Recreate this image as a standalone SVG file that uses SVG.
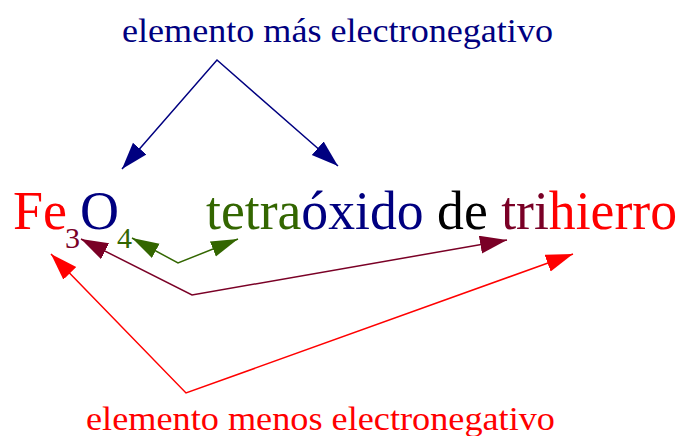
<svg xmlns="http://www.w3.org/2000/svg" width="683" height="436" viewBox="0 0 683 436">
  <style>
    text { font-family: "Liberation Serif", "Times New Roman", "DejaVu Serif", serif; }
    .lbl { font-size: 34px; }
    .big { font-size: 54px; }
    .sub { font-size: 30px; }
    .conn { fill: none; stroke-width: 1.5; }
    .red { fill: #ff0000; }
    .navy { fill: #000080; }
    .green { fill: #336600; }
    .maroon { fill: #7a0026; }
    .black { fill: #000000; }
  </style>
  <defs>
    <marker id="ah-navy" markerUnits="userSpaceOnUse" markerWidth="28" markerHeight="20" refX="27" refY="9" orient="auto-start-reverse" viewBox="0 0 28 20">
      <path d="M0,0 L27,9 L0,18 z" fill="#000080"/>
    </marker>
    <marker id="ah-green" markerUnits="userSpaceOnUse" markerWidth="28" markerHeight="20" refX="27" refY="8" orient="auto-start-reverse" viewBox="0 0 28 20">
      <path d="M0,0 L27,8 L0,16 z" fill="#336600"/>
    </marker>
    <marker id="ah-maroon" markerUnits="userSpaceOnUse" markerWidth="28" markerHeight="20" refX="27" refY="9" orient="auto-start-reverse" viewBox="0 0 28 20">
      <path d="M0,0 L27,9 L0,18 z" fill="#7a0026"/>
    </marker>
    <marker id="ah-red" markerUnits="userSpaceOnUse" markerWidth="28" markerHeight="20" refX="27" refY="9" orient="auto-start-reverse" viewBox="0 0 28 20">
      <path d="M0,0 L27,9 L0,18 z" fill="#ff0000"/>
    </marker>
  </defs>
  <rect width="683" height="436" fill="#ffffff"/>

  <g id="connectors">
    <polyline class="conn" stroke="#000080" points="122,169 217,60 338,166" marker-start="url(#ah-navy)" marker-end="url(#ah-navy)"/>
    <polyline class="conn" stroke="#336600" points="132,238 178,263 238,239" marker-start="url(#ah-green)" marker-end="url(#ah-green)"/>
    <polyline class="conn" stroke="#7a0026" points="81,239 192,295 507,240" marker-start="url(#ah-maroon)" marker-end="url(#ah-maroon)"/>
    <polyline class="conn" stroke="#ff0000" points="51,254 186,393 573,254" marker-start="url(#ah-red)" marker-end="url(#ah-red)"/>
  </g>

  <g id="label-mas">
    <text class="lbl navy" x="122" y="42" textLength="431" lengthAdjust="spacingAndGlyphs">elemento más electronegativo</text>
  </g>

  <g id="formula">
    <text class="big red" x="13" y="229">Fe</text>
    <text class="sub maroon" x="65" y="248">3</text>
    <text class="big navy" x="80" y="229">O</text>
    <text class="sub green" x="117" y="248">4</text>
  </g>

  <g id="name">
    <text class="big" x="206" y="229" textLength="471" lengthAdjust="spacingAndGlyphs"><tspan class="green">tetra</tspan><tspan class="navy">óxido</tspan><tspan class="black"> de </tspan><tspan class="maroon">tri</tspan><tspan class="red">hierro</tspan></text>
  </g>

  <g id="label-menos">
    <text class="lbl red" x="86" y="430" textLength="469" lengthAdjust="spacingAndGlyphs">elemento menos electronegativo</text>
  </g>
</svg>
